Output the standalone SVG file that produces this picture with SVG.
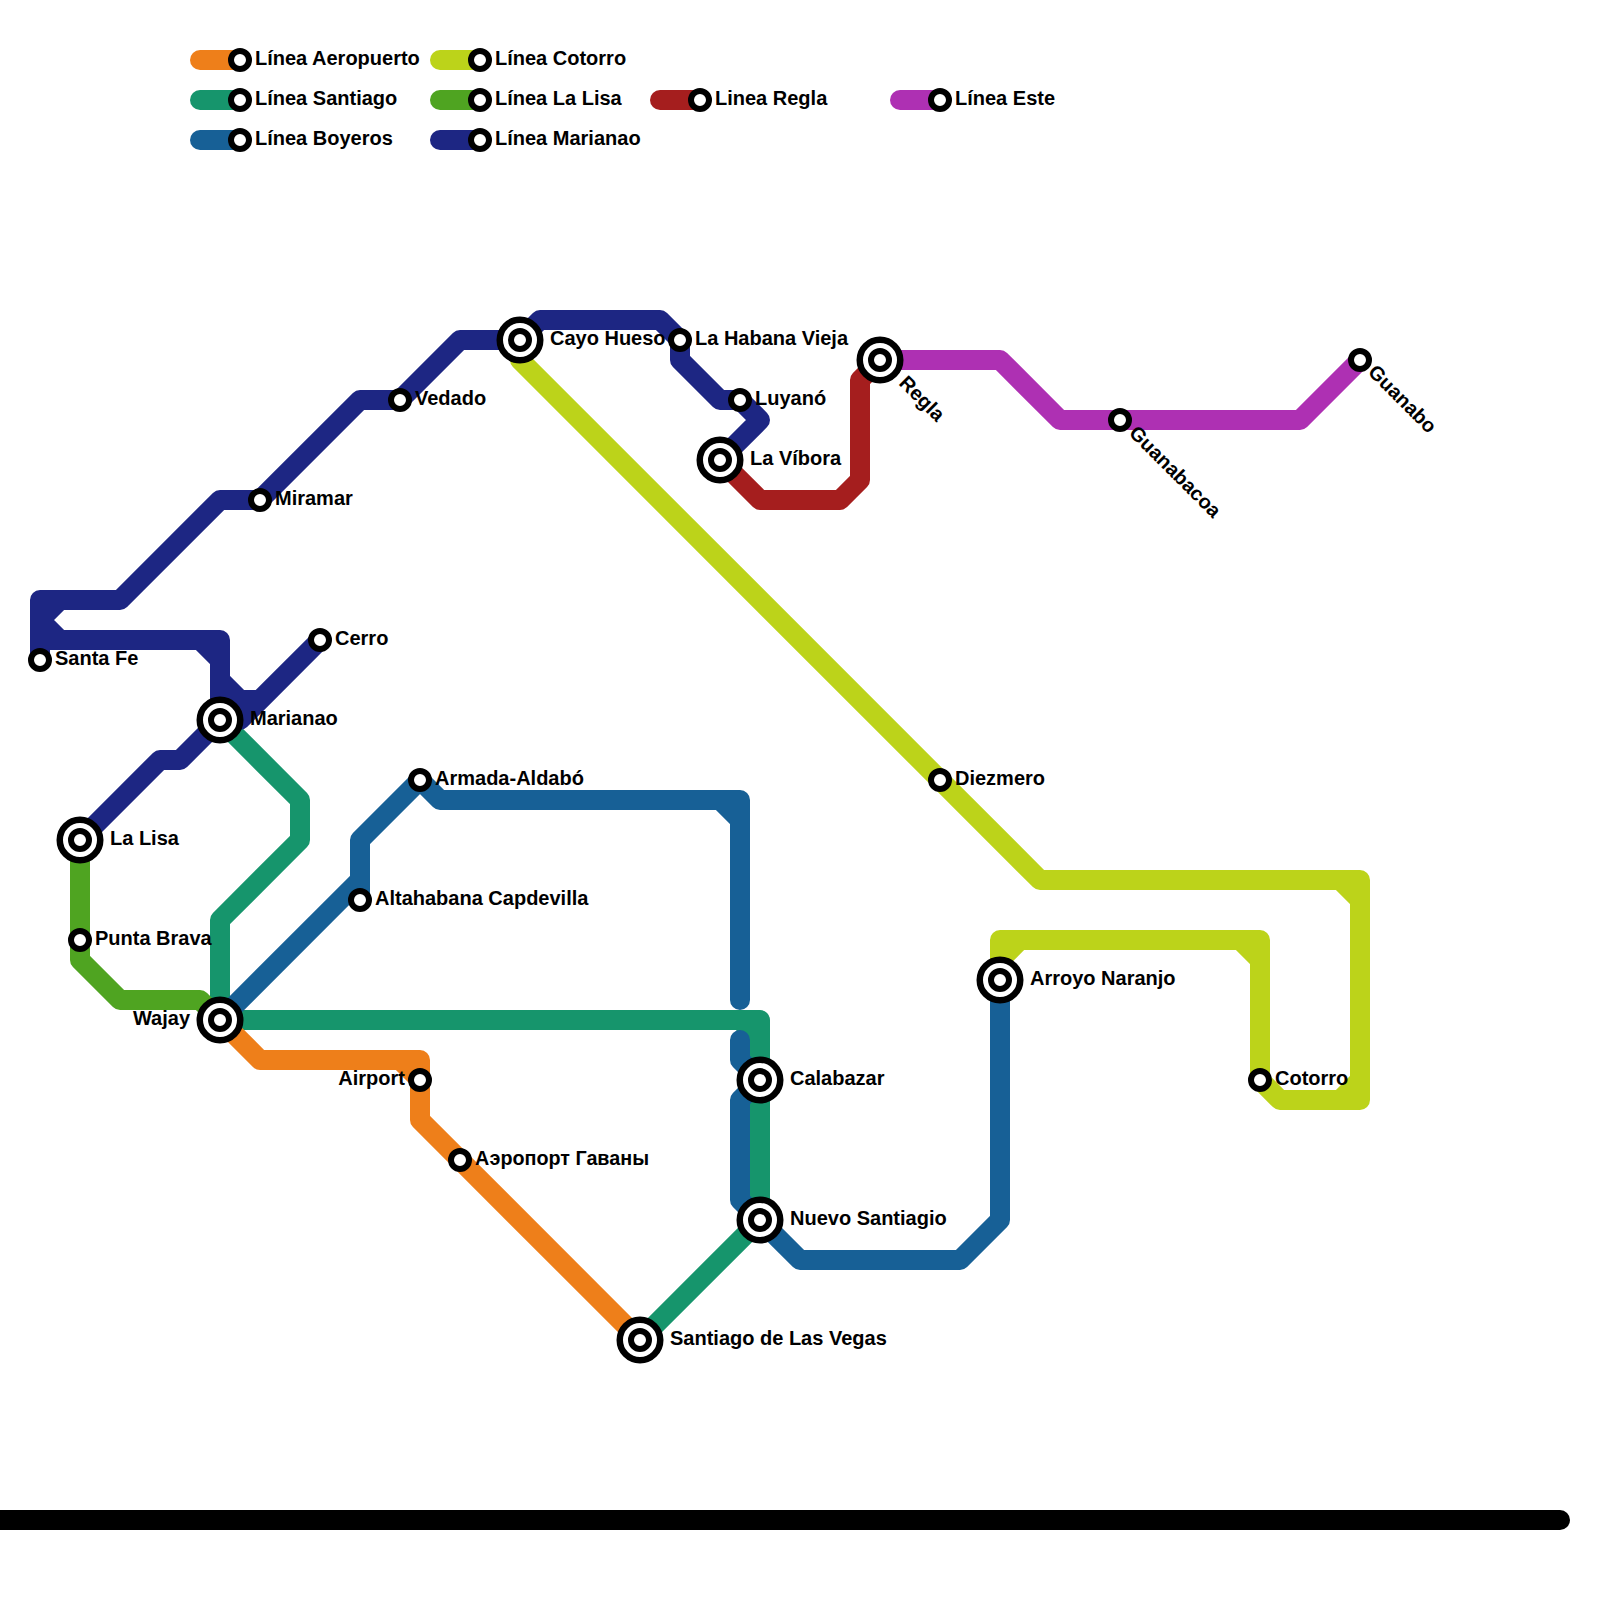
<svg xmlns="http://www.w3.org/2000/svg" width="1600" height="1600" viewBox="0 0 1600 1600">
<style>
.l{fill:none;stroke-width:20;stroke-linecap:round;stroke-linejoin:round}
.orange{stroke:#ee7f1a}.santiago{stroke:#16956c}.boyeros{stroke:#176096}.cotorro{stroke:#bcd31a}.lisa{stroke:#4fa421}.marianao{stroke:#1d2683}.regla{stroke:#a51e1e}.este{stroke:#ae30b3}
.ring{fill:#fff;stroke:#000;stroke-width:6}
.outer{fill:#fff;stroke:#000;stroke-width:6.5}
text{font-family:"Liberation Sans",Arial,sans-serif;font-weight:700;font-size:20px;fill:#000}
.e{text-anchor:end}
</style>
<defs>
<g id="s"><circle class="ring" r="9"/></g>
<g id="b"><circle class="outer" r="20.25"/><circle class="ring" r="9"/></g>
</defs>
<rect width="1600" height="1600" fill="#fff"/>
<g id="connectors">
<path class="l cotorro" d="M520,340V360L1040,880H1360V1100H1280L1260,1080V940H1000V980M1340,880L1360,900M1340,1100L1360,1080M1240,940L1260,960M1000,960L1020,940"/>
<path class="l santiago" d="M220,720L300,800V840L220,920V1020H760V1220L640,1340M740,1020L760,1040"/>
<path class="l boyeros" d="M360,900V840L420,780L440,800H740V1000M720,800L740,820M360,880L220,1020M740,1040V1060L760,1080L740,1100V1200L760,1220L800,1260H960L1000,1220V980"/>
<path class="l orange" d="M220,1020L260,1060H420V1120L640,1340M400,1060L420,1080"/>
<path class="l lisa" d="M80,840V960L120,1000H200L220,1020"/>
<path class="l marianao" d="M40,660V600H120L220,500H260L360,400H400L460,340H520L540,320H660L680,340V360L720,400H740L760,420L720,460M60,600L40,620L60,640M40,640H220V720M200,640L220,660M220,680L240,700H260M320,640L240,720M80,840L160,760H180L220,720"/>
<path class="l regla" d="M720,460L760,500H840L860,480V380L880,360"/>
<path class="l este" d="M880,360H1000L1060,420H1300L1360,360"/>
<path class="l" stroke="#000" d="M-20,1520H1560"/>
</g>
<g id="legend-aeropuerto"><path class="l orange" d="M200,60H240"/><use href="#s" x="240" y="60"/><text x="255" y="65">Línea Aeropuerto</text></g>
<g id="legend-santiago"><path class="l santiago" d="M200,100H240"/><use href="#s" x="240" y="100"/><text x="255" y="105">Línea Santiago</text></g>
<g id="legend-boyeros"><path class="l boyeros" d="M200,140H240"/><use href="#s" x="240" y="140"/><text x="255" y="145">Línea Boyeros</text></g>
<g id="legend-cotorro"><path class="l cotorro" d="M440,60H480"/><use href="#s" x="480" y="60"/><text x="495" y="65">Línea Cotorro</text></g>
<g id="legend-lalisa"><path class="l lisa" d="M440,100H480"/><use href="#s" x="480" y="100"/><text x="495" y="105">Línea La Lisa</text></g>
<g id="legend-marianao"><path class="l marianao" d="M440,140H480"/><use href="#s" x="480" y="140"/><text x="495" y="145">Línea Marianao</text></g>
<g id="legend-regla"><path class="l regla" d="M660,100H700"/><use href="#s" x="700" y="100"/><text x="715" y="105">Linea Regla</text></g>
<g id="legend-este"><path class="l este" d="M900,100H940"/><use href="#s" x="940" y="100"/><text x="955" y="105">Línea Este</text></g>
<g id="santa-fe"><use href="#s" x="40" y="660"/><text x="55" y="665">Santa Fe</text></g>
<g id="marianao"><use href="#b" x="220" y="720"/><text x="250" y="725">Marianao</text></g>
<g id="la-lisa"><use href="#b" x="80" y="840"/><text x="110" y="845">La Lisa</text></g>
<g id="cerro"><use href="#s" x="320" y="640"/><text x="335" y="645">Cerro</text></g>
<g id="miramar"><use href="#s" x="260" y="500"/><text x="275" y="505">Miramar</text></g>
<g id="vedado"><use href="#s" x="400" y="400"/><text x="415" y="405">Vedado</text></g>
<g id="cayo-hueso"><use href="#b" x="520" y="340"/><text x="550" y="345">Cayo Hueso</text></g>
<g id="habana-vieja"><use href="#s" x="680" y="340"/><text x="695" y="345">La Habana Vieja</text></g>
<g id="luyano"><use href="#s" x="740" y="400"/><text x="755" y="405">Luyanó</text></g>
<g id="la-vibora"><use href="#b" x="720" y="460"/><text x="750" y="465">La Víbora</text></g>
<g id="regla"><use href="#b" x="880" y="360"/><text transform="translate(898,384) rotate(45)">Regla</text></g>
<g id="guanabacoa"><use href="#s" x="1120" y="420"/><text transform="translate(1128,434) rotate(45)">Guanabacoa</text></g>
<g id="guanabo"><use href="#s" x="1360" y="360"/><text transform="translate(1367,373) rotate(45)">Guanabo</text></g>
<g id="diezmero"><use href="#s" x="940" y="780"/><text x="955" y="785">Diezmero</text></g>
<g id="arroyo-naranjo"><use href="#b" x="1000" y="980"/><text x="1030" y="985">Arroyo Naranjo</text></g>
<g id="cotorro"><use href="#s" x="1260" y="1080"/><text x="1275" y="1085">Cotorro</text></g>
<g id="armada"><use href="#s" x="420" y="780"/><text x="435" y="785">Armada-Aldabó</text></g>
<g id="altahabana"><use href="#s" x="360" y="900"/><text x="375" y="905">Altahabana Capdevilla</text></g>
<g id="punta-brava"><use href="#s" x="80" y="940"/><text x="95" y="945">Punta Brava</text></g>
<g id="wajay"><use href="#b" x="220" y="1020"/><text class="e" x="190" y="1025">Wajay</text></g>
<g id="airport"><use href="#s" x="420" y="1080"/><text class="e" x="405" y="1085">Airport</text></g>
<g id="aeroport"><use href="#s" x="460" y="1160"/><text x="475" y="1165" textLength="174" lengthAdjust="spacingAndGlyphs">Аэропорт Гаваны</text></g>
<g id="calabazar"><use href="#b" x="760" y="1080"/><text x="790" y="1085">Calabazar</text></g>
<g id="nuevo-santiagio"><use href="#b" x="760" y="1220"/><text x="790" y="1225">Nuevo Santiagio</text></g>
<g id="santiago-vegas"><use href="#b" x="640" y="1340"/><text x="670" y="1345">Santiago de Las Vegas</text></g>
</svg>
